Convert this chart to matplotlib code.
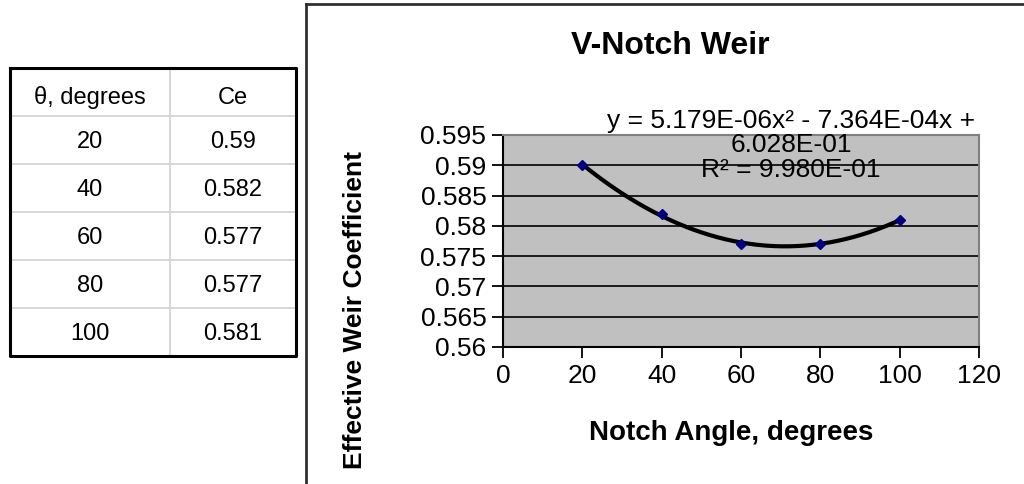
import matplotlib
matplotlib.use("Agg")
import matplotlib.pyplot as plt
import numpy as np
from matplotlib.lines import Line2D

plt.rcParams['font.family'] = ['Liberation Sans', 'DejaVu Sans']

angles = [20, 40, 60, 80, 100]
ce = [0.59, 0.582, 0.577, 0.577, 0.581]
table_header = ["θ, degrees", "Ce"]
table_angles = ["20", "40", "60", "80", "100"]
table_ce = ["0.59", "0.582", "0.577", "0.577", "0.581"]

W, H = 1024, 484
fig = plt.figure(figsize=(W / 100, H / 100), dpi=100)

# ---- table on the left
tax = fig.add_axes([10 / W, 1 - 356 / H, 286 / W, 288 / H])
tax.set_xlim(0, 2)
tax.set_ylim(6, 0)
tax.axis('off')
for r in range(1, 6):
    tax.axhline(r, color='#d0d0d0', lw=1.2)
tax.axvline(1.12, color='#d0d0d0', lw=1.2)
tax.plot([0, 2, 2, 0, 0], [0, 0, 6, 6, 0], color='black', lw=2.2, clip_on=False)
tax.text(0.56, 0.62, table_header[0], ha='center', va='center', fontsize=17)
tax.text(1.56, 0.62, table_header[1], ha='center', va='center', fontsize=17)
for i in range(5):
    tax.text(0.56, i + 1.55, table_angles[i], ha='center', va='center', fontsize=17)
    tax.text(1.56, i + 1.55, table_ce[i], ha='center', va='center', fontsize=17)

# ---- chart border
fig.add_artist(Line2D([306 / W, 306 / W], [0, 1 - 4 / H], transform=fig.transFigure, color='#303030', lw=2))
fig.add_artist(Line2D([306 / W, 1], [1 - 4 / H, 1 - 4 / H], transform=fig.transFigure, color='#303030', lw=2))

# ---- chart
ax = fig.add_axes([503 / W, 1 - 347 / H, 476 / W, 212 / H])
ax.set_facecolor('#c0c0c0')
ax.set_xlim(0, 120)
ax.set_ylim(0.56, 0.595)
ax.set_xticks(np.arange(0, 121, 20))
yt = np.arange(0.56, 0.5951, 0.005)
ax.set_yticks(yt)
ax.set_yticklabels(["0.56", "0.565", "0.57", "0.575", "0.58", "0.585", "0.59", "0.595"])
for v in yt[1:-1]:
    ax.axhline(v, color='black', lw=1.2, zorder=1)
ax.tick_params(direction='out', length=8, width=1.3, labelsize=19, pad=4)
for s in ['top', 'right']:
    ax.spines[s].set_color('#808080')
    ax.spines[s].set_linewidth(1.5)
for s in ['left', 'bottom']:
    ax.spines[s].set_color('black')
    ax.spines[s].set_linewidth(1.5)

coef = np.polyfit(angles, ce, 2)
fit = np.poly1d(coef)
pred = fit(angles)
r2 = 1 - np.sum((np.array(ce) - pred) ** 2) / np.sum((np.array(ce) - np.mean(ce)) ** 2)
xs = np.linspace(angles[0], angles[-1], 200)
ax.plot(xs, fit(xs), color='black', lw=3, zorder=3)
ax.plot(angles, ce, 'D', color='#000080', ms=5, zorder=4)

sign = '-' if coef[1] < 0 else '+'
eq = "y = %.3Ex² %s %.3Ex +\n%.3E\nR² = %.3E" % (coef[0], sign, abs(coef[1]), coef[2], r2)
ax.text(72.6, 0.5933, eq, ha='center', va='center', multialignment='center',
        fontsize=19, linespacing=1.03)

fig.text(670.5 / W, 1 - 46 / H, "V-Notch Weir", ha='center', va='center', fontsize=23, fontweight='bold')
ax.set_xlabel("Notch Angle, degrees", fontsize=20, fontweight='bold')
ax.xaxis.set_label_coords(0.479, -0.345)
ax.set_ylabel("Effective Weir Coefficient", fontsize=19, fontweight='bold')
ax.yaxis.set_label_coords(-0.285, 0.175)

fig.savefig("out.png", dpi=100)
